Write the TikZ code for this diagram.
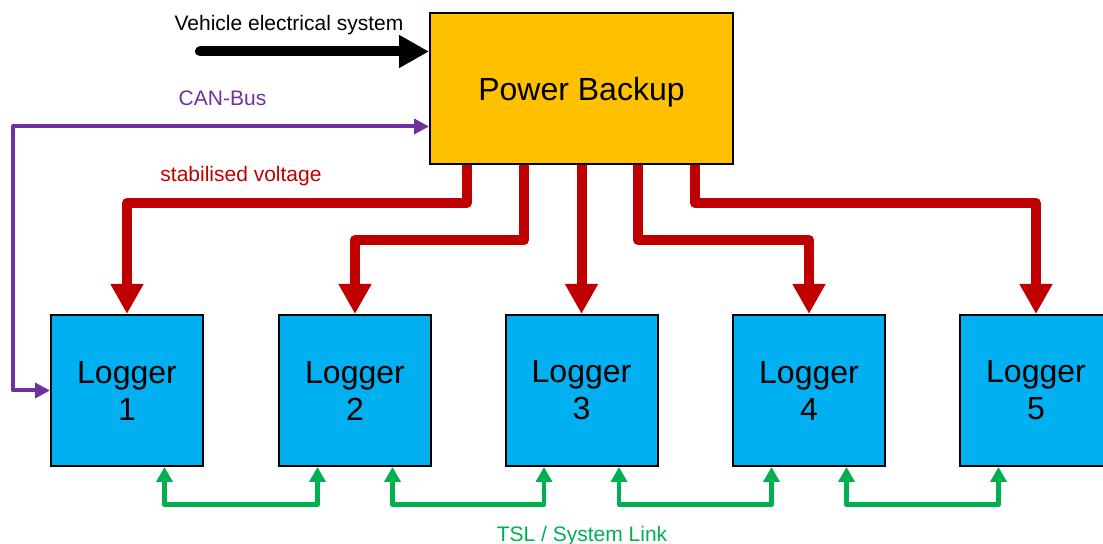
\documentclass[tikz,border=0pt]{standalone}
\usepackage{fontspec}
\setmainfont{Liberation Sans}
\usetikzlibrary{calc,arrows.meta}
\definecolor{backup}{HTML}{FFC000}
\definecolor{logger}{HTML}{00B0F0}
\definecolor{volt}{HTML}{C00000}
\definecolor{link}{HTML}{00B050}
\definecolor{bus}{HTML}{7030A0}
\tikzset{
  box/.style={draw=black, line width=1pt, inner sep=0pt, align=center,
    minimum width=76pt, minimum height=75.5pt, font=\fontsize{16}{18.5}\selectfont},
  pbox/.style={box, fill=backup, minimum width=151.5pt, text depth=0pt},
  lbox/.style={box, fill=logger},
  supply/.style={draw=black, line width=5pt, line cap=round,
    -{Triangle[length=15pt,width=15.5pt]}},
  voltline/.style={draw=volt, line width=5pt, line join=round,
    -{Triangle[length=15pt,width=15.5pt]}},
  busline/.style={draw=bus, line width=2pt, line join=round,
    {Triangle[length=7.5pt,width=7.5pt]}-{Triangle[length=7.5pt,width=7.5pt]}},
  linkline/.style={draw=link, line width=2.25pt, line join=round,
    {Triangle[length=7.5pt,width=8pt]}-{Triangle[length=7.5pt,width=8pt]}},
  lab/.style={inner sep=0pt, anchor=base, font=\fontsize{10.5}{12.6}\selectfont},
}
\begin{document}
\begin{tikzpicture}[x=0.5pt,y=-0.5pt]
  \useasboundingbox (0,0) rectangle (1103,544);

  % blocks
  \node[pbox] (pb) at (581.5,88.5) {Power Backup};
  \node[lbox] (log1) at (127,390.5) {Logger\\1};
  \node[lbox] (log2) at (355,390.5) {Logger\\2};
  \node[lbox] (log3) at (581.5,390.5) {Logger\\3};
  \node[lbox] (log4) at (809,390.5) {Logger\\4};
  \node[lbox] (log5) at (1036,390.5) {Logger\\5};

  \coordinate (veh) at (200,51.5);
  \coordinate (lvl1) at (0,203);
  \coordinate (lvl2) at (0,240);
  \coordinate (busx) at (13,0);

  % supply and CAN
  \draw[supply] (veh) -- (pb.west |- veh);
  \node[lab] (vehlbl) at (289,30.5) {Vehicle electrical system};
  \draw[busline] ($(pb.west)+(0,38)$) -| (busx |- log1.west) -- (log1.west);
  \node[lab, text=bus] (buslbl) at (222.5,106) {CAN-Bus};

  % stabilised voltage
  \draw[voltline] ($(pb.south)+(-114.5,0)$) |- (log1.north |- lvl1) -- (log1.north);
  \draw[voltline] ($(pb.south)+(-57.5,0)$) |- (log2.north |- lvl2) -- (log2.north);
  \draw[voltline] (pb.south) -- (log3.north);
  \draw[voltline] ($(pb.south)+(56.5,0)$) |- (log4.north |- lvl2) -- (log4.north);
  \draw[voltline] ($(pb.south)+(113.5,0)$) |- (log5.north |- lvl1) -- (log5.north);
  \node[lab, text=volt] (voltlbl) at (241,182) {stabilised voltage};

  % system link
  \draw[linkline] ($(log1.south)+(37.5,0)$) -- ++(0,37.5) -| ($(log2.south)+(-37.5,0)$);
  \draw[linkline] ($(log2.south)+(37.5,0)$) -- ++(0,37.5) -| ($(log3.south)+(-37.5,0)$);
  \draw[linkline] ($(log3.south)+(37.5,0)$) -- ++(0,37.5) -| ($(log4.south)+(-37.5,0)$);
  \draw[linkline] ($(log4.south)+(37.5,0)$) -- ++(0,37.5) -| ($(log5.south)+(-37.5,0)$);
  \node[lab, text=link] (linklbl) at (582,541.5) {TSL / System Link};
\end{tikzpicture}
\end{document}
